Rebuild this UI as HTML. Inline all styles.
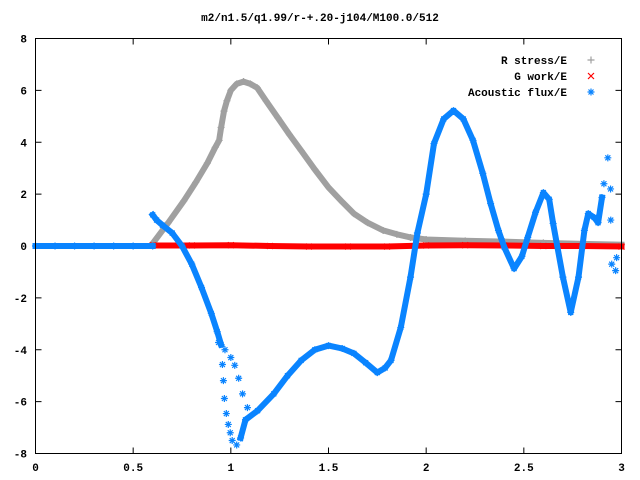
<!DOCTYPE html>
<html><head><meta charset="utf-8"><style>
body{margin:0;background:#fff}
svg{display:block}
text{font-family:"Liberation Mono",monospace;font-size:11px;font-weight:bold;fill:#000}
</style></head><body>
<svg id="chart" width="640" height="480" viewBox="0 0 640 480">
<rect x="0" y="0" width="640" height="480" fill="#fff"/>
<text x="320" y="21" text-anchor="middle">m2/n1.5/q1.99/r-+.20-j104/M100.0/512</text>
<g id="axes"></g>
<g id="series"></g>
<rect x="35.5" y="38.5" width="586" height="415" fill="none" stroke="#000" stroke-width="1"/>
<g id="legend"></g>
</svg>
<script>
const xTicks=[0,0.5,1,1.5,2,2.5,3];
const xTickLabels=["0","0.5","1","1.5","2","2.5","3"];
const yTicks=[-8,-6,-4,-2,0,2,4,6,8];
const yTickLabels=["-8","-6","-4","-2","0","2","4","6","8"];
const seriesNames=["R stress/E","G work/E","Acoustic flux/E"];

const stressX=[0.6,0.68,0.76,0.82,0.88,0.92,0.94,0.95,0.965,0.98,1.0,1.03,1.065,1.1,1.135,1.18,1.24,1.3,1.36,1.43,1.5,1.57,1.63,1.7,1.78,1.85,1.92,2.0,2.2,2.4,2.6,2.8,3.0];
const stressY=[0.1,0.9,1.75,2.45,3.2,3.8,4.07,4.57,5.2,5.6,6.0,6.25,6.34,6.25,6.1,5.6,4.95,4.3,3.68,2.95,2.26,1.7,1.25,0.9,0.6,0.45,0.33,0.25,0.2,0.17,0.12,0.08,0.05];

const workX=[0.6,0.8,1.0,1.2,1.4,1.6,1.8,2.0,2.2,2.4,2.6,2.8,3.0];
const workY=[0.02,0.02,0.03,0.0,-0.02,-0.02,-0.02,0.02,0.03,0.02,0.0,0.0,-0.02];

const fluxX=[0,0.1,0.2,0.3,0.4,0.5,0.6,0.6,0.62,0.65,0.7,0.75,0.8,0.85,0.9,0.93,0.95,0.97,1.0,1.02,1.04,1.06,1.085];
const fluxY=[0,0,0,0,0,0,0,1.2,1.0,0.8,0.5,0.0,-0.7,-1.6,-2.6,-3.3,-3.8,-4.0,-4.3,-4.6,-5.1,-5.7,-6.23];
const flux2X=[0.937,0.957,0.962,0.967,0.977,0.987,0.997,1.007,1.03,1.05,1.075,1.137,1.22,1.29,1.36,1.43,1.5,1.57,1.63,1.69,1.75,1.79,1.82,1.87,1.92,1.955,2.0,2.04,2.09,2.14,2.19,2.24,2.29,2.33,2.37,2.4,2.45,2.49,2.52,2.56,2.6,2.63,2.65,2.7,2.74,2.78,2.81,2.83,2.86,2.88,2.9,2.91,2.93,2.944,2.945,2.95,2.97,2.975];
const flux2Y=[-3.72,-4.57,-5.19,-5.88,-6.46,-6.88,-7.2,-7.5,-7.67,-7.4,-6.7,-6.35,-5.7,-5.0,-4.41,-4.0,-3.84,-3.95,-4.14,-4.5,-4.88,-4.7,-4.41,-3.14,-1.2,0.5,2.0,3.95,4.9,5.22,4.9,4.07,2.8,1.64,0.6,-0.05,-0.87,-0.4,0.33,1.3,2.06,1.8,0.87,-1.2,-2.56,-1.2,0.6,1.25,1.1,0.9,1.87,2.4,3.4,2.2,1.0,-0.7,-0.95,-0.45];

const NS="http://www.w3.org/2000/svg";
const X0=35.5,X1=621.5,Y0=453.5,Y1=38.5;
function sx(v){return X0+(v-0)/(3-0)*(X1-X0);}
function sy(v){return Y0-(v-(-8))/(8-(-8))*(Y0-Y1);}
function mk(tag,attrs,parent){const e=document.createElementNS(NS,tag);for(const k in attrs)e.setAttribute(k,attrs[k]);parent.appendChild(e);return e;}

const axes=document.getElementById('axes');
xTicks.forEach((t,i)=>{
  const x=sx(t);
  const l1=mk('line',{x1:x,y1:Y0,x2:x,y2:Y0-6,stroke:'#000'},axes);
  
  
  const l2=mk('line',{x1:x,y1:Y1,x2:x,y2:Y1+6,stroke:'#000'},axes);
  
  
  const tx=mk('text',{x:x,y:471,'text-anchor':'middle'},axes);
  tx.textContent=xTickLabels[i];
  
  
});
yTicks.forEach((t,i)=>{
  const y=sy(t);
  const l1=mk('line',{x1:X0,y1:y,x2:X0+6,y2:y,stroke:'#000'},axes);
  
  
  const l2=mk('line',{x1:X1,y1:y,x2:X1-6,y2:y,stroke:'#000'},axes);
  
  
  const tx=mk('text',{x:27,y:y+4,'text-anchor':'end'},axes);
  tx.textContent=yTickLabels[i];
  
  
});

function plus(g,x,y,c){return mk('path',{d:`M${x-3.5} ${y}H${x+3.5}M${x} ${y-3.5}V${y+3.5}`,stroke:c,'stroke-width':1.2,fill:'none'},g);}
function cross(g,x,y,c){return mk('path',{d:`M${x-3} ${y-3}L${x+3} ${y+3}M${x-3} ${y+3}L${x+3} ${y-3}`,stroke:c,'stroke-width':1.2,fill:'none'},g);}
function star(g,x,y,c){return mk('path',{d:`M${x-3.5} ${y}H${x+3.5}M${x} ${y-3.5}V${y+3.5}M${x-2.5} ${y-2.5}L${x+2.5} ${y+2.5}M${x-2.5} ${y+2.5}L${x+2.5} ${y-2.5}`,stroke:c,'stroke-width':1.2,fill:'none'},g);}

const ser=document.getElementById('series');
function band(xs,ys,c,w,name,from,to){
  let d='';
  for(let i=from;i<to;i++)d+=(i===from?'M':'L')+sx(xs[i]).toFixed(1)+' '+sy(ys[i]).toFixed(1);
  const p=mk('path',{d:d,stroke:c,'stroke-width':w,fill:'none','stroke-linejoin':'round','stroke-linecap':'square'},ser);
  
  
}
function marks(xs,ys,c,fn,name){
  const g=mk('g',{},ser);
  
  
  xs.forEach((v,i)=>{const m=fn(g,sx(v),sy(ys[i]),c);
    
    });
}
const GRAY='#a0a0a0',RED='#ff0000',BLUE='#0a84ff';
band(stressX,stressY,GRAY,6,'r-stress-band',0,stressX.length);
marks(stressX,stressY,GRAY,plus,'r-stress-series');
band(workX,workY,RED,6,'g-work-band',0,workX.length);
marks(workX,workY,RED,cross,'g-work-series');
band(fluxX,fluxY,BLUE,6,'acoustic-flux-baseline',0,7);
band(fluxX,fluxY,BLUE,6,'acoustic-flux-band-a',7,17);
band(flux2X,flux2Y,BLUE,6,'acoustic-flux-band-b',9,flux2X.length-7);
marks(fluxX,fluxY,BLUE,star,'acoustic-flux-series-a');
marks(flux2X,flux2Y,BLUE,star,'acoustic-flux-series-b');

const leg=document.getElementById('legend');
const cols=[GRAY,RED,BLUE],fns=[plus,cross,star];
seriesNames.forEach((n,i)=>{
  const y=64+i*16;
  const t=mk('text',{x:567,y:y,'text-anchor':'end'},leg);
  t.textContent=n;
  
  
  const m=fns[i](leg,591,y-4,cols[i]);
  
  
});
</script>
</body></html>
